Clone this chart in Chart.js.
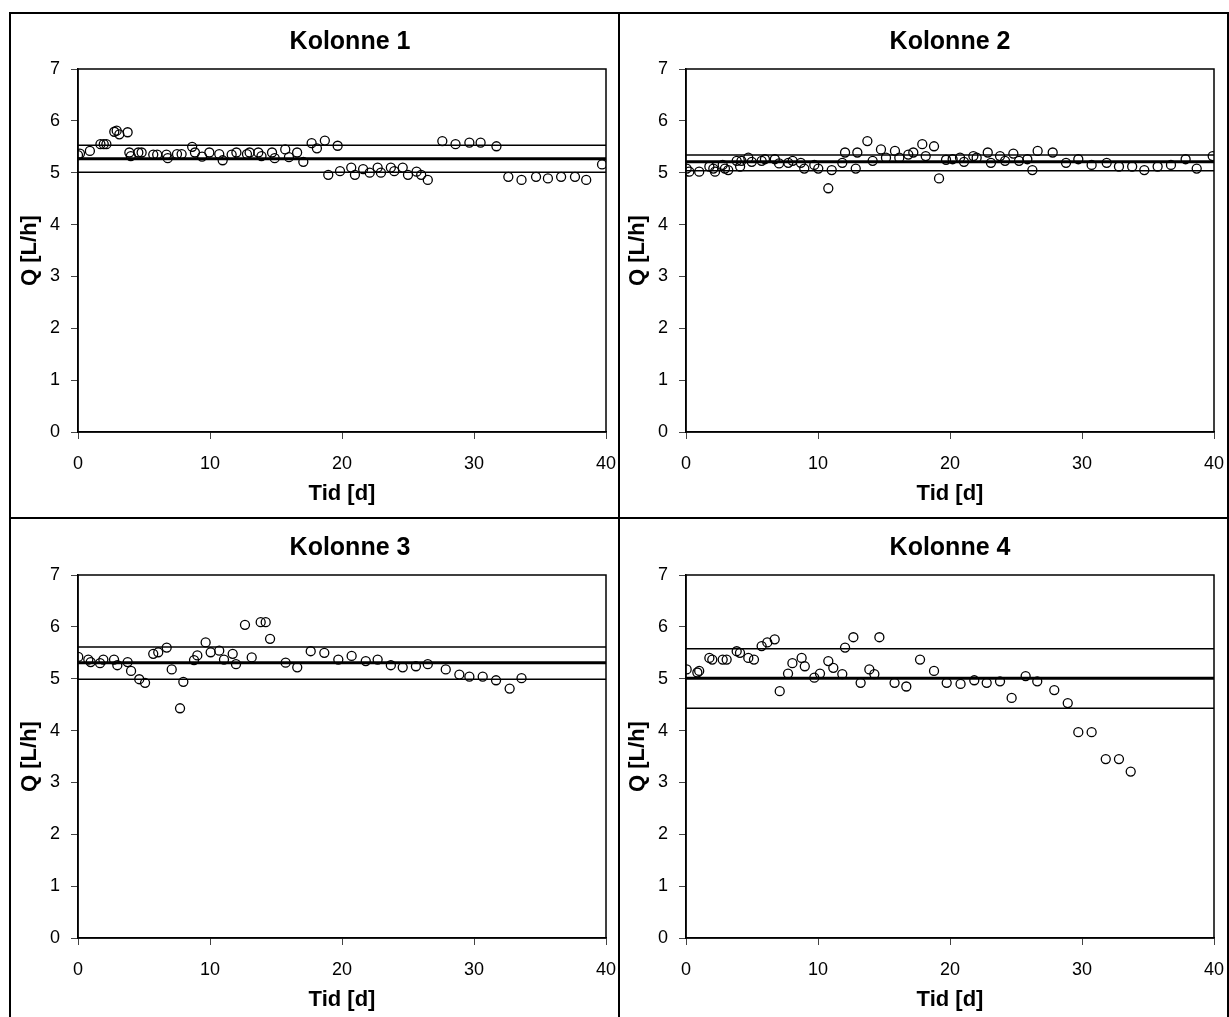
<!DOCTYPE html>
<html>
<head>
<meta charset="utf-8">
<script src="https://cdn.jsdelivr.net/npm/chart.js@4/dist/chart.umd.min.js"></script>
<style>
  html, body { margin: 0; padding: 0; background: #fff; }
  body { position: relative; width: 1229px; height: 1017px; overflow: hidden; }
  canvas.panel { position: absolute; }
  .rule { position: absolute; background: #000; }
</style>
</head>
<body>
<canvas class="panel" id="k1" width="608" height="504" style="left:10px;top:13px"></canvas>
<canvas class="panel" id="k2" width="608" height="504" style="left:618px;top:13px"></canvas>
<canvas class="panel" id="k3" width="608" height="504" style="left:10px;top:519px"></canvas>
<canvas class="panel" id="k4" width="608" height="504" style="left:618px;top:519px"></canvas>

<!-- outer frame and dividers between the four panels -->
<div class="rule" style="left:9px;top:12px;width:1220px;height:1.5px"></div>
<div class="rule" style="left:9px;top:12px;width:1.5px;height:1010px"></div>
<div class="rule" style="left:1227px;top:12px;width:1.5px;height:1010px"></div>
<div class="rule" style="left:618px;top:12px;width:1.5px;height:1010px"></div>
<div class="rule" style="left:9px;top:517px;width:1220px;height:1.5px"></div>

<script>
// Kolonne 1: tid [d] og gennemstrømning Q [L/h]
const kol1Tid = [0.0, 0.15, 0.9, 1.7, 1.95, 2.15, 2.75, 2.93, 3.13, 3.76, 3.89, 4.0, 4.57, 4.82, 5.7, 6.0, 6.7, 6.8, 7.5, 7.85,
  8.65, 8.86, 9.4, 9.95, 10.7, 10.96, 11.64, 12.0, 12.8, 13.0, 13.66, 13.9, 14.7, 14.9, 15.7, 15.98, 16.6, 17.07, 17.7, 18.1,
  18.7, 18.96, 19.67, 19.85, 20.7, 20.98, 21.6, 22.1, 22.7, 22.95, 23.7, 23.96, 24.6, 25.0, 25.65, 26.0, 26.5, 27.6, 28.6, 29.65,
  30.5, 31.7, 32.6, 33.6, 34.7, 35.6, 36.6, 37.65, 38.5, 39.7];
const kol1Q = [5.34, 5.37, 5.42, 5.55, 5.55, 5.55, 5.79, 5.81, 5.74, 5.78, 5.39, 5.32, 5.39, 5.39, 5.35, 5.35, 5.35, 5.28, 5.36, 5.36,
  5.50, 5.39, 5.31, 5.39, 5.36, 5.24, 5.35, 5.39, 5.36, 5.39, 5.39, 5.32, 5.39, 5.28, 5.45, 5.30, 5.39, 5.21, 5.57, 5.47,
  5.62, 4.96, 5.52, 5.03, 5.10, 4.96, 5.07, 5.00, 5.10, 5.00, 5.10, 5.03, 5.10, 4.96, 5.02, 4.96, 4.86, 5.61, 5.55, 5.58,
  5.58, 5.51, 4.92, 4.86, 4.92, 4.89, 4.92, 4.92, 4.86, 5.16];

// Kolonne 2
const kol2Tid = [0.05, 0.25, 1.0, 1.77, 2.07, 2.2, 2.78, 2.95, 3.2, 3.84, 4.1, 4.2, 4.72, 4.98, 5.73, 5.98, 6.73, 7.05, 7.75, 8.08,
  8.7, 8.96, 9.72, 10.02, 10.78, 11.04, 11.84, 12.05, 12.86, 12.98, 13.74, 14.14, 14.77, 15.15, 15.83, 16.16, 16.84, 17.22, 17.9, 18.16,
  18.79, 19.17, 19.7, 20.2, 20.76, 21.06, 21.77, 22.02, 22.86, 23.1, 23.79, 24.17, 24.8, 25.23, 25.86, 26.24, 26.64, 27.78, 28.79, 29.72,
  30.73, 31.87, 32.8, 33.8, 34.72, 35.73, 36.74, 37.85, 38.69, 39.9];
const kol2Q = [5.08, 5.02, 5.02, 5.12, 5.08, 5.02, 5.15, 5.08, 5.05, 5.23, 5.12, 5.23, 5.29, 5.21, 5.23, 5.26, 5.26, 5.18, 5.19, 5.23,
  5.19, 5.08, 5.15, 5.08, 4.70, 5.05, 5.19, 5.39, 5.08, 5.39, 5.61, 5.23, 5.45, 5.29, 5.42, 5.29, 5.35, 5.39, 5.55, 5.32,
  5.51, 4.89, 5.25, 5.26, 5.29, 5.21, 5.32, 5.29, 5.39, 5.19, 5.32, 5.23, 5.37, 5.23, 5.26, 5.05, 5.42, 5.39, 5.19, 5.26,
  5.15, 5.19, 5.12, 5.12, 5.05, 5.12, 5.15, 5.26, 5.08, 5.32];

// Kolonne 3
const kol3Tid = [0.02, 0.78, 0.96, 1.67, 1.92, 2.73, 2.98, 3.76, 4.02, 4.64, 5.08, 5.7, 6.08, 6.72, 7.1, 7.73, 7.98, 8.79, 9.04, 9.67,
  10.05, 10.7, 11.06, 11.72, 11.97, 12.65, 13.16, 13.84, 14.22, 14.55, 15.73, 16.61, 17.63, 18.66, 19.72, 20.73, 21.8, 22.7, 23.7, 24.6,
  25.6, 26.5, 27.86, 28.89, 29.65, 30.66, 31.67, 32.7, 33.6];
const kol3Q = [5.42, 5.37, 5.32, 5.30, 5.37, 5.37, 5.26, 5.32, 5.15, 4.99, 4.92, 5.48, 5.51, 5.60, 5.18, 4.43, 4.94, 5.36, 5.45, 5.70,
  5.51, 5.54, 5.37, 5.48, 5.28, 6.04, 5.41, 6.09, 6.09, 5.77, 5.31, 5.22, 5.53, 5.50, 5.37, 5.44, 5.34, 5.37, 5.26, 5.22,
  5.24, 5.28, 5.18, 5.08, 5.04, 5.04, 4.97, 4.81, 5.01];

// Kolonne 4
const kol4Tid = [0.05, 0.86, 1.0, 1.77, 1.99, 2.78, 3.08, 3.84, 4.09, 4.72, 5.15, 5.73, 6.16, 6.72, 7.1, 7.73, 8.06, 8.76, 9.0, 9.72,
  10.15, 10.78, 11.16, 11.84, 12.05, 12.68, 13.23, 13.89, 14.27, 14.65, 15.8, 16.69, 17.73, 18.79, 19.75, 20.8, 21.84, 22.78, 23.79, 24.67,
  25.73, 26.61, 27.9, 28.92, 29.72, 30.73, 31.8, 32.8, 33.69];
const kol4Q = [5.18, 5.12, 5.15, 5.40, 5.37, 5.37, 5.37, 5.53, 5.50, 5.40, 5.37, 5.63, 5.70, 5.76, 4.76, 5.10, 5.30, 5.40, 5.24, 5.02,
  5.10, 5.34, 5.21, 5.09, 5.60, 5.80, 4.92, 5.18, 5.09, 5.80, 4.92, 4.85, 5.37, 5.15, 4.92, 4.90, 4.97, 4.92, 4.95, 4.63,
  5.05, 4.95, 4.78, 4.53, 3.97, 3.97, 3.45, 3.45, 3.21];

// Middelværdi, øvre og nedre grænse for hver kolonne
const kol1Linjer = [5.27, 5.53, 5.01];
const kol2Linjer = [5.21, 5.34, 5.04];
const kol3Linjer = [5.31, 5.61, 4.99];
const kol4Linjer = [5.01, 5.58, 4.43];

// Akser
const tidMin = 0, tidMax = 40, tidStep = 10;
const qMin = 0, qMax = 7, qStep = 1;

const FONT = "'Liberation Sans', Arial, Helvetica, sans-serif";

// Closed frame around the plotting area
const plotFrame = {
  id: 'plotFrame',
  afterDatasetsDraw(chart) {
    const a = chart.chartArea, ctx = chart.ctx;
    ctx.save();
    ctx.strokeStyle = '#000';
    ctx.lineWidth = 1.5;
    ctx.strokeRect(a.left, a.top, a.right - a.left, a.bottom - a.top);
    ctx.restore();
  }
};

// Panel heading above the plotting area
const panelTitle = {
  id: 'panelTitle',
  afterDraw(chart, args, opts) {
    const a = chart.chartArea, ctx = chart.ctx;
    ctx.save();
    ctx.font = `bold ${opts.size}px ${FONT}`;
    ctx.fillStyle = '#000';
    ctx.textAlign = 'center';
    ctx.textBaseline = 'middle';
    ctx.fillText(opts.text, (a.left + a.right) / 2 + opts.dx, opts.y);
    ctx.restore();
  }
};

function levelLine(value, width) {
  return {
    type: 'line',
    data: [{ x: tidMin, y: value }, { x: tidMax, y: value }],
    borderColor: '#000',
    borderWidth: width,
    pointRadius: 0,
    showLine: true,
    fill: false,
    order: 2
  };
}

function makeChart(id, title, tid, q, linjer, titleDx) {
  const punkter = tid.map((t, i) => ({ x: t, y: q[i] }));
  new Chart(document.getElementById(id), {
    type: 'scatter',
    data: {
      datasets: [
        levelLine(linjer[1], 1.5),
        levelLine(linjer[2], 1.5),
        levelLine(linjer[0], 3),
        {
          type: 'scatter',
          data: punkter,
          pointStyle: 'circle',
          pointRadius: 4.5,
          borderWidth: 1.3,
          borderColor: '#000',
          backgroundColor: 'rgba(0,0,0,0)',
          order: 1
        }
      ]
    },
    options: {
      responsive: false,
      animation: false,
      devicePixelRatio: 1,
      layout: { padding: { top: 56, right: 12, bottom: 0, left: 0 } },
      plugins: {
        legend: { display: false },
        tooltip: { enabled: false },
        title: { display: false },
        panelTitle: { text: title, size: 25, y: 29, dx: titleDx }
      },
      scales: {
        x: {
          type: 'linear',
          min: tidMin, max: tidMax,
          afterFit: s => { s.height = 85; s.paddingLeft = 0; s.paddingRight = 0; },
          ticks: { stepSize: tidStep, color: '#000', font: { family: FONT, size: 18 }, padding: 14, maxRotation: 0 },
          grid: { drawOnChartArea: false, tickLength: 7, color: '#444', lineWidth: 1 },
          border: { display: true, color: '#000', width: 1.5 },
          title: {
            display: true, text: 'Tid [d]', color: '#000',
            font: { family: FONT, size: 22, weight: 'bold' },
            padding: { top: 0, bottom: 10 }
          }
        },
        y: {
          type: 'linear',
          min: qMin, max: qMax,
          afterFit: s => { s.width = 68; s.paddingTop = 0; s.paddingBottom = 0; },
          ticks: { stepSize: qStep, color: '#000', font: { family: FONT, size: 18 }, padding: 11 },
          grid: { drawOnChartArea: false, tickLength: 7, color: '#444', lineWidth: 1 },
          border: { display: true, color: '#000', width: 1.5 },
          title: {
            display: true, text: 'Q [L/h]', color: '#000',
            font: { family: FONT, size: 22, weight: 'bold' },
            padding: { top: 7, bottom: 0 }
          }
        }
      }
    },
    plugins: [plotFrame, panelTitle]
  });
}

makeChart('k1', 'Kolonne 1', kol1Tid, kol1Q, kol1Linjer, 8);
makeChart('k2', 'Kolonne 2', kol2Tid, kol2Q, kol2Linjer, 0);
makeChart('k3', 'Kolonne 3', kol3Tid, kol3Q, kol3Linjer, 8);
makeChart('k4', 'Kolonne 4', kol4Tid, kol4Q, kol4Linjer, 0);
</script>
</body>
</html>
